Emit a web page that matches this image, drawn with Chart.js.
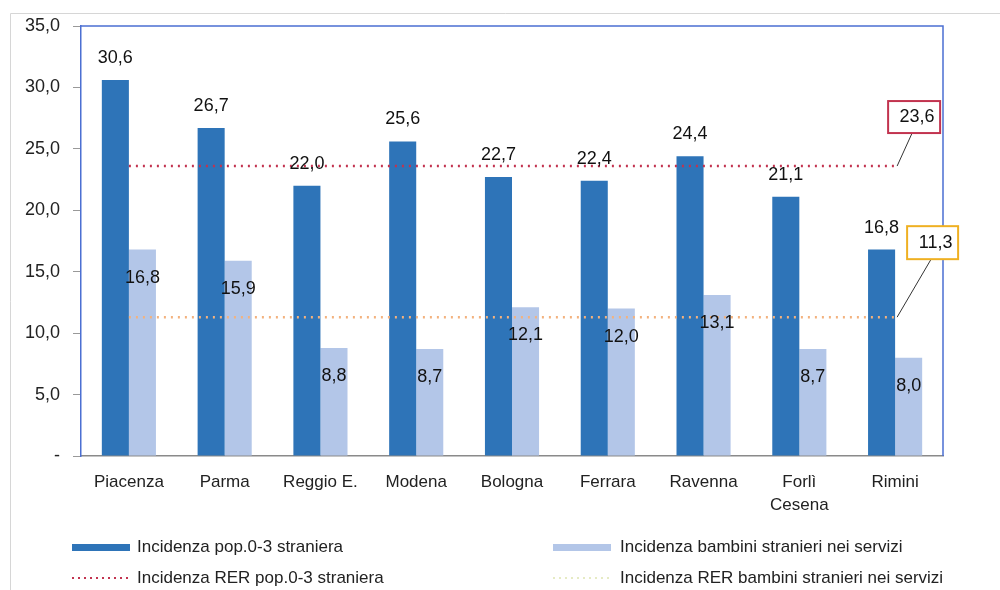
<!DOCTYPE html>
<html>
<head>
<meta charset="utf-8">
<script src="https://cdn.jsdelivr.net/npm/chart.js@4/dist/chart.umd.min.js"></script>
<style>
  html, body { margin: 0; padding: 0; background: #ffffff; }
  #wrap { width: 1000px; height: 590px; position: relative; }
</style>
</head>
<body>
<div id="wrap"><canvas id="c" width="1000" height="590"></canvas></div>
<script>
const categories = ["Piacenza", "Parma", "Reggio E.", "Modena", "Bologna", "Ferrara", "Ravenna", ["Forlì", "Cesena"], "Rimini"];
const popStraniera = [30.6, 26.7, 22.0, 25.6, 22.7, 22.4, 24.4, 21.1, 16.8];
const bambiniServizi = [16.8, 15.9, 8.8, 8.7, 12.1, 12.0, 13.1, 8.7, 8.0];
const rerPop = 23.6;
const rerBambini = 11.3;
const rerPopLine = [23.6, 23.6, 23.6, 23.6, 23.6, 23.6, 23.6, 23.6, 23.6];
const rerBambiniLine = [11.3, 11.3, 11.3, 11.3, 11.3, 11.3, 11.3, 11.3, 11.3];
const yTicks = [0, 5, 10, 15, 20, 25, 30, 35];
const seriesLabels = [
  "Incidenza pop.0-3 straniera",
  "Incidenza bambini stranieri nei servizi",
  "Incidenza RER pop.0-3 straniera",
  "Incidenza RER bambini stranieri nei servizi"
];

const DARK = "#2E74B8";
const LIGHT = "#B3C6E8";
const RED = "#C2334F";
const ORANGE = "#F3B27E";
const FONT = "'Liberation Sans', Arial, sans-serif";

function fmt(v) {
  return v.toFixed(1).replace(".", ",");
}

const decor = {
  id: "decor",
  beforeDraw(chart) {
    const ctx = chart.ctx;
    ctx.save();
    ctx.strokeStyle = "#d6d6d6";
    ctx.lineWidth = 1;
    ctx.beginPath();
    ctx.moveTo(10.5, 590);
    ctx.lineTo(10.5, 13.5);
    ctx.lineTo(1000, 13.5);
    ctx.stroke();
    ctx.restore();
  },
  afterDatasetsDraw(chart) {
    const ctx = chart.ctx;
    const a = chart.chartArea;
    ctx.save();
    ctx.strokeStyle = "#4B6FD2";
    ctx.lineWidth = 1.5;
    ctx.beginPath();
    ctx.moveTo(a.left, a.top);
    ctx.lineTo(a.right, a.top);
    ctx.lineTo(a.right, a.bottom);
    ctx.stroke();

    ctx.font = "18px " + FONT;
    ctx.fillStyle = "#111";
    ctx.textAlign = "center";
    ctx.textBaseline = "middle";
    const m0 = chart.getDatasetMeta(0);
    m0.data.forEach((bar, i) => {
      ctx.fillText(fmt(popStraniera[i]), bar.x, bar.y - 22);
    });
    const m1 = chart.getDatasetMeta(1);
    m1.data.forEach((bar, i) => {
      ctx.fillText(fmt(bambiniServizi[i]), bar.x, bar.y + 28);
    });

    const xs = chart.scales.x, ys = chart.scales.y;
    const xe = xs.getPixelForValue(categories.length - 1);
    const y1 = ys.getPixelForValue(rerPop);
    const y2 = ys.getPixelForValue(rerBambini);
    ctx.strokeStyle = "#333";
    ctx.lineWidth = 1;
    ctx.beginPath();
    ctx.moveTo(xe + 2, y1);
    ctx.lineTo(xe + 17, y1 - 33);
    ctx.moveTo(xe + 2, y2);
    ctx.lineTo(xe + 36, y2 - 58);
    ctx.stroke();

    function box(x, y, w, h, color, text) {
      ctx.fillStyle = "#fff";
      ctx.fillRect(x, y, w, h);
      ctx.strokeStyle = color;
      ctx.lineWidth = 2;
      ctx.strokeRect(x, y, w, h);
      ctx.fillStyle = "#111";
      ctx.font = "18px " + FONT;
      ctx.textAlign = "center";
      ctx.textBaseline = "middle";
      ctx.fillText(text, x + w / 2 + 3, y + h / 2);
    }
    box(xe - 7, y1 - 65, 52, 32, RED, fmt(rerPop));
    box(xe + 12, y2 - 91, 51, 33, "#EFB022", fmt(rerBambini));

    ctx.font = "17px " + FONT;
    ctx.textAlign = "left";
    ctx.textBaseline = "middle";
    const rows = [547, 578];
    const cols = [[72, 137], [553, 620]];
    ctx.fillStyle = DARK;
    ctx.fillRect(cols[0][0], rows[0] - 3, 58, 7);
    ctx.fillStyle = LIGHT;
    ctx.fillRect(cols[1][0], rows[0] - 3, 58, 7);
    ctx.strokeStyle = RED;
    ctx.lineWidth = 2;
    ctx.setLineDash([2, 4]);
    ctx.beginPath();
    ctx.moveTo(cols[0][0], rows[1]);
    ctx.lineTo(cols[0][0] + 58, rows[1]);
    ctx.stroke();
    ctx.strokeStyle = "#E6EBC4";
    ctx.beginPath();
    ctx.moveTo(cols[1][0], rows[1]);
    ctx.lineTo(cols[1][0] + 58, rows[1]);
    ctx.stroke();
    ctx.setLineDash([]);
    ctx.fillStyle = "#222";
    ctx.fillText(seriesLabels[0], cols[0][1], rows[0]);
    ctx.fillText(seriesLabels[1], cols[1][1], rows[0]);
    ctx.fillText(seriesLabels[2], cols[0][1], rows[1]);
    ctx.fillText(seriesLabels[3], cols[1][1], rows[1]);
    ctx.restore();
  }
};

new Chart(document.getElementById("c"), {
  data: {
    labels: categories,
    datasets: [
      {
        type: "bar", label: seriesLabels[0], data: popStraniera,
        backgroundColor: DARK, categoryPercentage: 0.565, barPercentage: 1.0, order: 2
      },
      {
        type: "bar", label: seriesLabels[1], data: bambiniServizi,
        backgroundColor: LIGHT, categoryPercentage: 0.565, barPercentage: 1.0, order: 2
      },
      {
        type: "line", label: seriesLabels[2], data: rerPopLine,
        borderColor: RED, borderWidth: 2.5, borderDash: [2, 5], pointRadius: 0, fill: false, order: 1
      },
      {
        type: "line", label: seriesLabels[3], data: rerBambiniLine,
        borderColor: ORANGE, borderWidth: 2.5, borderDash: [2, 5], pointRadius: 0, fill: false, order: 1
      }
    ]
  },
  options: {
    responsive: false,
    animation: false,
    layout: { padding: { left: 0, top: 26, right: 57, bottom: 0 } },
    plugins: { legend: { display: false }, tooltip: { enabled: false } },
    scales: {
      x: {
        grid: { display: false, drawTicks: false },
        border: { color: "#8a8a8a", width: 1.5 },
        ticks: { color: "#222", font: { family: FONT, size: 17, lineHeight: 1.4 }, padding: 14, maxRotation: 0, autoSkip: false },
        afterFit(s) { s.height = 134; }
      },
      y: {
        min: 0, max: 35,
        afterBuildTicks(s) { s.ticks = yTicks.map(v => ({ value: v })); },
        grid: { drawOnChartArea: false, drawTicks: true, tickLength: 8, color: "#999" },
        border: { color: "#4B6FD2", width: 1.5 },
        ticks: {
          color: "#222", font: { family: FONT, size: 18 }, padding: 13,
          callback: v => v === 0 ? "-" : fmt(v)
        },
        afterFit(s) { s.width = 81; }
      }
    }
  },
  plugins: [decor]
});
</script>
</body>
</html>
